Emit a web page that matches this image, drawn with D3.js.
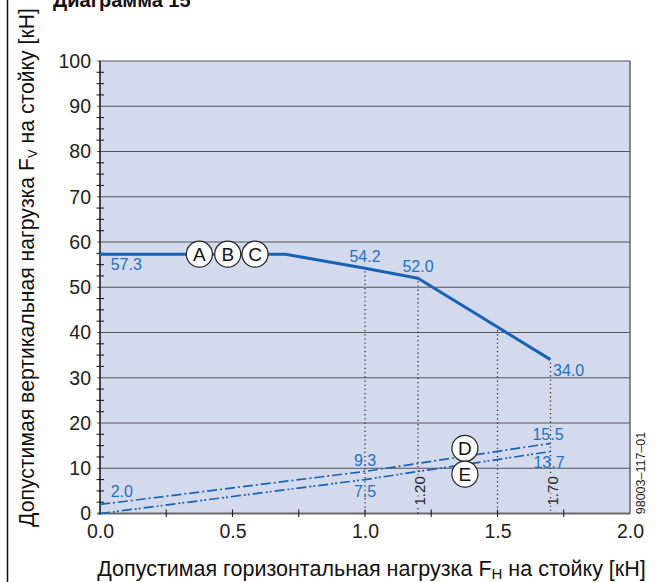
<!DOCTYPE html>
<html><head><meta charset="utf-8">
<script src="https://cdn.jsdelivr.net/npm/d3@7"></script>
<style>
html,body{margin:0;padding:0;background:#fff;}
svg{display:block;font-family:"Liberation Sans",Arial,sans-serif;}
</style></head>
<body>
<svg id="chart" width="657" height="582"></svg>
<script>
// ---- data ----
const curveX = [0, 0.7, 1.0, 1.2, 1.5, 1.7];
const curveY = [57.3, 57.3, 54.2, 52.0, 41.2, 34.0];
const lineDX = [0, 1.0, 1.7];
const lineDY = [2.0, 9.3, 15.5];
const lineEX = [0, 1.0, 1.7];
const lineEY = [0, 7.5, 13.7];
const dropX = [1.0, 1.2, 1.5, 1.7];
const dropY = [54.2, 52.0, 41.2, 34.0];
const xTickValues = [0, 0.5, 1.0, 1.5, 2.0];
const xTickLabels = ["0.0", "0.5", "1.0", "1.5", "2.0"];
const yTickValues = [0, 10, 20, 30, 40, 50, 60, 70, 80, 90, 100];
const markerLetters = ["A", "B", "C", "D", "E"];
const markerX = [0.375, 0.482, 0.585, 1.377, 1.377];
const markerY = [57.3, 57.3, 57.3, 14.4, 8.7];
const valueTexts = ["57.3", "54.2", "52.0", "34.0", "2.0", "9.3", "7.5", "15.5", "13.7"];
const valueX = [0, 1.0, 1.2, 1.7, 0, 1.0, 1.0, 1.7, 1.7];
const valueY = [57.3, 54.2, 52.0, 34.0, 2.0, 9.3, 7.5, 15.5, 13.7];
const dropLabels = ["1.20", "1.70"];
const dropLabelX = [1.2, 1.7];

// ---- layout ----
const svg = d3.select("#chart");
const x = d3.scaleLinear().domain([0, 2]).range([100, 630]);
const y = d3.scaleLinear().domain([0, 100]).range([513.5, 61]);
const blue = "#1a62b2";
const labelBlue = "#2470be";

// left frame line
svg.append("line").attr("x1", 7.5).attr("x2", 7.5).attr("y1", 0).attr("y2", 582)
  .attr("stroke", "#111").attr("stroke-width", 1.5);

// title
svg.append("text").attr("x", 53).attr("y", 7).attr("font-size", 20).attr("font-weight", "bold")
  .attr("fill", "#111").text("Диаграмма 15");

// plot background
svg.append("rect").attr("x", x(0)).attr("y", y(100)).attr("width", x(2) - x(0)).attr("height", y(0) - y(100))
  .attr("fill", "#d3daed");

// horizontal grid
svg.append("g").selectAll("line").data(yTickValues).join("line")
  .attr("x1", 97).attr("x2", x(2)).attr("y1", d => y(d)).attr("y2", d => y(d))
  .attr("stroke", d => d === 0 ? "#6a6a6a" : "#555").attr("stroke-width", d => d === 0 ? 2 : 1.1);

// right border
svg.append("line").attr("x1", x(2)).attr("x2", x(2)).attr("y1", y(100)).attr("y2", y(0))
  .attr("stroke", "#666").attr("stroke-width", 1.5);

// y axis with minor ticks
const yMinor = d3.range(0, 100.01, 2.5);
svg.append("g").selectAll("line").data(yMinor.filter(v => v % 10 !== 0)).join("line")
  .attr("x1", 96.5).attr("x2", 104).attr("y1", d => y(d)).attr("y2", d => y(d))
  .attr("stroke", "#222").attr("stroke-width", 1.1);
svg.append("line").attr("x1", x(0)).attr("x2", x(0)).attr("y1", y(100)).attr("y2", y(0) + 1)
  .attr("stroke", "#111").attr("stroke-width", 1.5);
const yAxis = d3.axisLeft(y).tickValues(yTickValues).tickSize(0).tickPadding(9).tickFormat(d3.format("d"));
const gy = svg.append("g").attr("transform", `translate(${x(0)},0)`).call(yAxis);
gy.select(".domain").remove();
gy.selectAll("text").attr("font-size", 19.5).attr("fill", "#222").attr("font-family", "Liberation Sans, Arial, sans-serif");

// x axis minor ticks
const xMinor = d3.range(0.25, 2, 0.25);
svg.append("g").selectAll("line").data(xMinor).join("line")
  .attr("x1", d => x(d)).attr("x2", d => x(d)).attr("y1", y(0) - 4).attr("y2", y(0) + 3.5)
  .attr("stroke", "#222").attr("stroke-width", 1.1);
const xAxis = d3.axisBottom(x).tickValues(xTickValues).tickSize(0).tickPadding(11)
  .tickFormat((d, i) => xTickLabels[i]);
const gx = svg.append("g").attr("transform", `translate(0,${y(0)})`).call(xAxis);
gx.select(".domain").remove();
gx.selectAll("text").attr("font-size", 19.5).attr("fill", "#222").attr("font-family", "Liberation Sans, Arial, sans-serif");

// dotted drop lines
svg.append("g").selectAll("line").data(dropX).join("line")
  .attr("x1", d => x(d)).attr("x2", d => x(d))
  .attr("y1", (d, i) => y(dropY[i]) + 3).attr("y2", y(0))
  .attr("stroke", "#222").attr("stroke-width", 1.2).attr("stroke-dasharray", "1.2,3");

// D & E lines
const lineGen = d3.line().x(d => x(d[0])).y(d => y(d[1]));
svg.append("path").datum(lineDX.map((v, i) => [v, lineDY[i]])).attr("d", lineGen)
  .attr("fill", "none").attr("stroke", blue).attr("stroke-width", 1.7).attr("stroke-dasharray", "10,3,2,3");
svg.append("path").datum(lineEX.map((v, i) => [v, lineEY[i]])).attr("d", lineGen)
  .attr("fill", "none").attr("stroke", blue).attr("stroke-width", 1.7).attr("stroke-dasharray", "10,3,2,2,2,3");

// main curve
svg.append("path").datum(curveX.map((v, i) => [v, curveY[i]])).attr("d", lineGen)
  .attr("fill", "none").attr("stroke", blue).attr("stroke-width", 3).attr("stroke-linejoin", "round");

// value labels
const valueOffsets = [[10.7, 16, "start"], [0, -6.5, "middle"], [0, -6, "middle"], [2.5, 16.5, "start"],
  [10.7, -7, "start"], [0, -5.5, "middle"], [0, 17.7, "middle"], [-2.5, -3.5, "middle"], [-1.5, 16.5, "middle"]];
svg.append("g").selectAll("text").data(valueTexts).join("text")
  .attr("x", (d, i) => x(valueX[i]) + valueOffsets[i][0])
  .attr("y", (d, i) => y(valueY[i]) + valueOffsets[i][1])
  .attr("text-anchor", (d, i) => valueOffsets[i][2])
  .attr("font-size", 16).attr("fill", labelBlue).text(d => d);

// rotated drop labels
svg.append("g").selectAll("text").data(dropLabels).join("text")
  .attr("transform", (d, i) => `translate(${x(dropLabelX[i]) + 7},${y(5)})rotate(-90)`)
  .attr("text-anchor", "middle").attr("font-size", 15).attr("fill", "#222")
  .attr("stroke", "#d3daed").attr("stroke-width", 3).attr("paint-order", "stroke")
  .text(d => d);

// circle markers
const mk = svg.append("g").selectAll("g").data(markerLetters).join("g")
  .attr("transform", (d, i) => `translate(${x(markerX[i])},${y(markerY[i])})`);
mk.append("circle").attr("r", 13).attr("fill", "#fff").attr("stroke", "#222").attr("stroke-width", 1.2);
mk.append("text").attr("text-anchor", "middle").attr("dy", "0.36em").attr("font-size", 19)
  .attr("fill", "#111").text(d => d);

// drawing number
svg.append("text").attr("transform", `translate(645,473)rotate(-90)`).attr("text-anchor", "middle")
  .attr("font-size", 12.5).attr("fill", "#222").text("98003–117–01");

// axis titles
const xt = svg.append("text").attr("x", 371.5).attr("y", 576).attr("text-anchor", "middle")
  .attr("font-size", 21.5).attr("fill", "#111");
xt.append("tspan").text("Допустимая горизонтальная нагрузка F");
xt.append("tspan").attr("font-size", 15).attr("dy", 3).text("H");
xt.append("tspan").attr("dy", -3).text(" на стойку [кН]");

const yt = svg.append("text").attr("transform", `translate(34,267.5)rotate(-90)`).attr("text-anchor", "middle")
  .attr("font-size", 21.2).attr("fill", "#111");
yt.append("tspan").text("Допустимая вертикальная нагрузка F");
yt.append("tspan").attr("font-size", 13).attr("dy", 3).text("V");
yt.append("tspan").attr("dy", -3).text(" на стойку [кН]");
</script>
</body></html>
